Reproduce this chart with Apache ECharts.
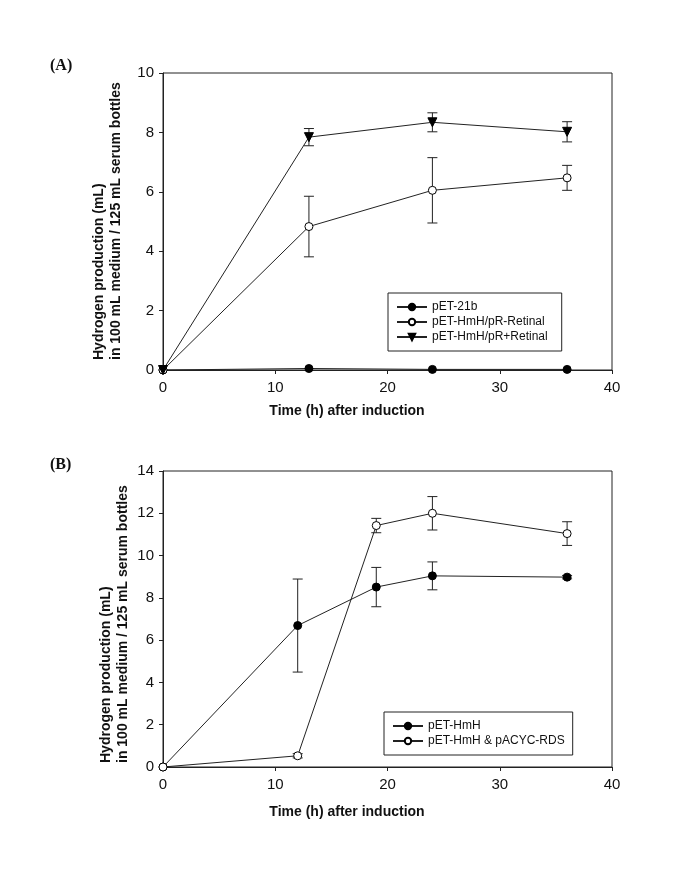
<!DOCTYPE html>
<html>
<head>
<meta charset="utf-8">
<script src="https://cdn.jsdelivr.net/npm/echarts@6/dist/echarts.min.js"></script>
<style>html,body{margin:0;padding:0;background:#fff}#c{width:685px;height:869px}</style>
</head>
<body>
<div id="c"></div>
<script>
// Panel A data
var timeA = [0, 13, 24, 36];
var a21b = [0, 0.05, 0.02, 0.02];
var aMinus = [0, 4.83, 6.05, 6.47];
var aMinusErr = [0, 1.02, 1.1, 0.42];
var aPlus = [0, 7.84, 8.34, 8.02];
var aPlusErr = [0, 0.29, 0.32, 0.34];
var namesA = ['pET-21b', 'pET-HmH/pR-Retinal', 'pET-HmH/pR+Retinal'];
// Panel B data
var timeB = [0, 12, 19, 24, 36];
var bHmH = [0, 6.69, 8.51, 9.04, 8.98];
var bHmHErr = [0, 2.2, 0.93, 0.66, 0.08];
var bRDS = [0, 0.53, 11.42, 12.0, 11.04];
var bRDSErr = [0, 0.1, 0.34, 0.79, 0.56];
var namesB = ['pET-HmH', 'pET-HmH & pACYC-RDS'];
var xTicks = [0, 10, 20, 30, 40];

function pairs(xs, ys) { return xs.map(function (x, i) { return [x, ys[i]]; }); }
function triples(xs, ys, es) { return xs.map(function (x, i) { return [x, ys[i], es[i]]; }); }

var LINE = '#222';
var FONT = "Arial, 'Liberation Sans', sans-serif";

function errSeries(gi, xs, ys, es) {
  return {
    type: 'custom', xAxisIndex: gi, yAxisIndex: gi, z: 1, silent: true,
    data: triples(xs, ys, es),
    renderItem: function (params, api) {
      var x = api.value(0), y = api.value(1), e = api.value(2);
      if (!e) return null;
      var p = api.coord([x, y + e]), q = api.coord([x, y - e]);
      var w = 5;
      var st = { stroke: LINE, lineWidth: 1 };
      return { type: 'group', children: [
        { type: 'line', shape: { x1: p[0], y1: p[1], x2: q[0], y2: q[1] }, style: st },
        { type: 'line', shape: { x1: p[0] - w, y1: p[1], x2: p[0] + w, y2: p[1] }, style: st },
        { type: 'line', shape: { x1: q[0] - w, y1: q[1], x2: q[0] + w, y2: q[1] }, style: st }
      ]};
    }
  };
}

function lineSeries(gi, name, xs, ys, symbol, rot, open) {
  return {
    type: 'line', name: name, xAxisIndex: gi, yAxisIndex: gi, z: 3,
    data: pairs(xs, ys), symbol: symbol, symbolSize: symbol === 'triangle' ? 9 : 8,
    symbolRotate: rot || 0, showSymbol: true,
    lineStyle: { color: LINE, width: 1 },
    itemStyle: { color: open ? '#fff' : '#000', borderColor: '#000', borderWidth: 1 }
  };
}

function xAxisDef(gi) {
  return {
    type: 'value', gridIndex: gi, min: 0, max: 40, interval: 10,
    axisLine: { show: true, lineStyle: { color: LINE, width: 1 } },
    axisTick: { show: true, inside: false, length: 4, lineStyle: { color: LINE } },
    axisLabel: { color: '#111', fontSize: 15, fontFamily: FONT, margin: 10,
      formatter: function (v) { return xTicks.indexOf(v) >= 0 ? String(v) : ''; } },
    splitLine: { show: false }
  };
}
function yAxisDef(gi, max) {
  return {
    type: 'value', gridIndex: gi, min: 0, max: max, interval: 2,
    axisLine: { show: true, lineStyle: { color: LINE, width: 1 } },
    axisTick: { show: true, inside: false, length: 4, lineStyle: { color: LINE } },
    axisLabel: { color: '#111', fontSize: 15, fontFamily: FONT, margin: 9 },
    splitLine: { show: false }
  };
}

function ytitle(x1, x2, yb) {
  var base = { fill: '#111', font: 'bold 14px ' + FONT, textAlign: 'left', textVerticalAlign: 'middle' };
  return [
    { type: 'text', x: x1, y: yb, rotation: Math.PI / 2, style: Object.assign({ text: 'Hydrogen production (mL)' }, base) },
    { type: 'text', x: x2, y: yb, rotation: Math.PI / 2, style: Object.assign({ text: 'in 100 mL medium / 125 mL serum bottles' }, base) }
  ];
}

var chart = echarts.init(document.getElementById('c'), null, { renderer: 'canvas' });
chart.setOption({
  animation: false,
  backgroundColor: '#fff',
  grid: [
    { left: 163, top: 73, width: 449, height: 297, show: true, borderColor: LINE, borderWidth: 1, backgroundColor: 'transparent' },
    { left: 163, top: 471, width: 449, height: 296, show: true, borderColor: LINE, borderWidth: 1, backgroundColor: 'transparent' }
  ],
  xAxis: [xAxisDef(0), xAxisDef(1)],
  yAxis: [yAxisDef(0, 10), yAxisDef(1, 14)],
  legend: [
    { data: namesA, orient: 'vertical', left: 388, top: 293, itemWidth: 30, itemHeight: 8, itemGap: 3,
      padding: [8, 14, 8, 8], borderColor: LINE, borderWidth: 1, backgroundColor: '#fff',
      textStyle: { fontSize: 12, fontFamily: FONT, color: '#111' }, selectedMode: false },
    { data: namesB, orient: 'vertical', left: 384, top: 712, itemWidth: 30, itemHeight: 8, itemGap: 3,
      padding: [8, 8, 8, 8], borderColor: LINE, borderWidth: 1, backgroundColor: '#fff',
      textStyle: { fontSize: 12, fontFamily: FONT, color: '#111' }, selectedMode: false }
  ],
  graphic: [
    { type: 'text', x: 50, y: 58, style: { text: '(A)', font: "bold 16px 'Times New Roman', 'Liberation Serif', serif", fill: '#111' } },
    { type: 'text', x: 50, y: 457, style: { text: '(B)', font: "bold 16px 'Times New Roman', 'Liberation Serif', serif", fill: '#111' } },
    { type: 'text', x: 347, y: 411, style: { text: 'Time (h) after induction', font: 'bold 14px ' + FONT, fill: '#111', textAlign: 'center', textVerticalAlign: 'middle' } },
    { type: 'text', x: 347, y: 812, style: { text: 'Time (h) after induction', font: 'bold 14px ' + FONT, fill: '#111', textAlign: 'center', textVerticalAlign: 'middle' } }
  ].concat(ytitle(99, 116, 360)).concat(ytitle(106, 123, 763)),
  series: [
    errSeries(0, timeA, aMinus, aMinusErr),
    errSeries(0, timeA, aPlus, aPlusErr),
    lineSeries(0, namesA[0], timeA, a21b, 'circle'),
    lineSeries(0, namesA[1], timeA, aMinus, 'circle', 0, true),
    lineSeries(0, namesA[2], timeA, aPlus, 'triangle', 180),
    errSeries(1, timeB, bHmH, bHmHErr),
    errSeries(1, timeB, bRDS, bRDSErr),
    lineSeries(1, namesB[0], timeB, bHmH, 'circle'),
    lineSeries(1, namesB[1], timeB, bRDS, 'circle', 0, true)
  ]
});
</script>
</body>
</html>
